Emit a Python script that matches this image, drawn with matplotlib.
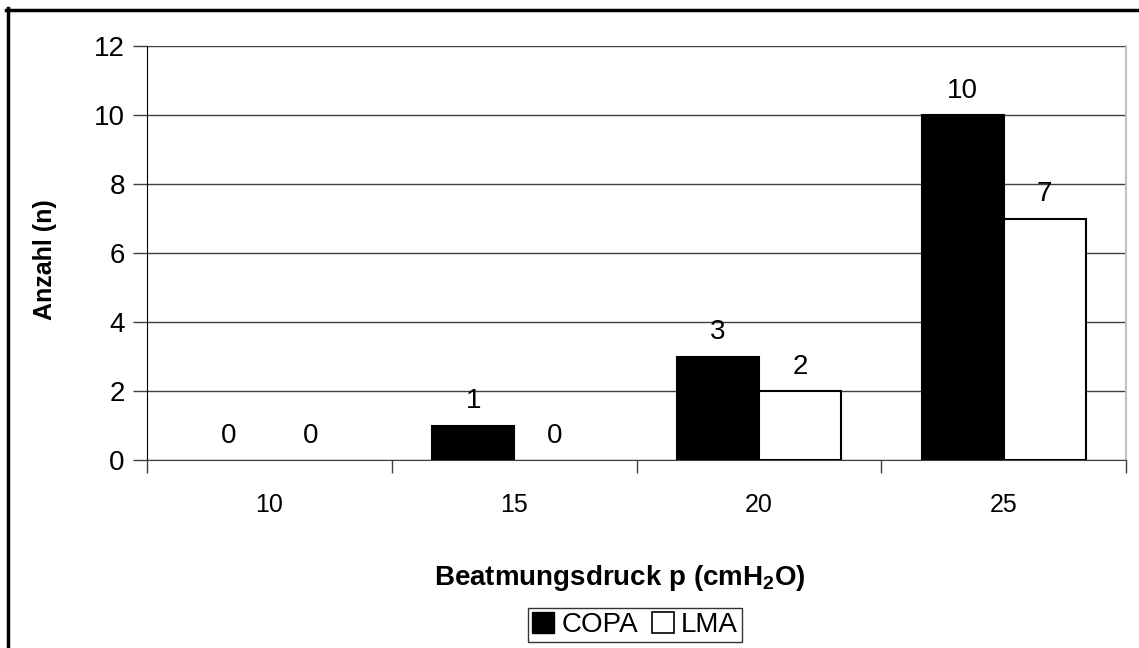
import numpy as np
import matplotlib.pyplot as plt
from matplotlib.lines import Line2D
from matplotlib.patches import Patch

plt.rcParams['font.family'] = ['Liberation Sans', 'DejaVu Sans']
plt.rcParams['mathtext.fontset'] = 'custom'
plt.rcParams['mathtext.rm'] = 'Liberation Sans:bold'
plt.rcParams['mathtext.bf'] = 'Liberation Sans:bold'

druck = ['10', '15', '20', '25']
copa = [0, 1, 3, 10]
lma = [0, 0, 2, 7]

W, H = 1139, 648
fig = plt.figure(figsize=(W / 100, H / 100), dpi=100)
ax = fig.add_axes([147 / W, (H - 460) / H, (1126 - 147) / W, 414 / H])

x = np.arange(len(druck))
bw = 0.335
b1 = ax.bar(x - bw / 2, copa, bw, color='black', edgecolor='black',
            linewidth=[1.5 if v > 0 else 0 for v in copa], zorder=3)
b2 = ax.bar(x + bw / 2, lma, bw, color='white', edgecolor='black',
            linewidth=[1.5 if v > 0 else 0 for v in lma], zorder=3)

for bars, vals in [(b1, copa), (b2, lma)]:
    for b, v in zip(bars, vals):
        ax.annotate(str(v), (b.get_x() + b.get_width() / 2, v),
                    xytext=(0, 8), textcoords='offset points',
                    ha='center', va='bottom', fontsize=20)

ax.set_xlim(-0.5, 3.5)
ax.set_ylim(0, 12)
ax.set_yticks(np.arange(0, 13, 2))
ax.yaxis.grid(True, color='#404040', linewidth=1)
ax.set_axisbelow(True)

ax.set_xticks(x)
ax.set_xticklabels(druck)
ax.set_xticks(np.arange(-0.5, 4, 1), minor=True)
ax.tick_params(axis='x', which='major', length=0, pad=24, labelsize=18)
ax.tick_params(axis='x', which='minor', length=9, width=1, color='#404040', direction='out')
ax.tick_params(axis='y', length=10, width=1, color='#404040', labelsize=20, pad=6)

ax.spines['top'].set_visible(False)
ax.spines['right'].set_color('#c0c0c0')
ax.spines['right'].set_linewidth(1.5)
ax.spines['left'].set_color('black')
ax.spines['bottom'].set_color('#404040')

fig.text(45 / W, 1 - 260 / H, 'Anzahl (n)', rotation=90, ha='center', va='center',
         fontsize=18, fontweight='bold')
fig.text(620 / W, 1 - 578 / H, r'Beatmungsdruck p (cmH$_2$O)', ha='center', va='center',
         fontsize=20, fontweight='bold')

handles = [Patch(facecolor='black', edgecolor='black'),
           Patch(facecolor='white', edgecolor='black', linewidth=1.2)]
leg = fig.legend(handles, ['COPA', 'LMA'], loc='center', bbox_to_anchor=(635 / W, (H - 625) / H),
                 ncol=2, frameon=True, fancybox=False, fontsize=20,
                 handlelength=0.8, handleheight=0.8, handletextpad=0.25, columnspacing=0.5,
                 borderpad=0.15, borderaxespad=0, edgecolor='black')
leg.get_frame().set_linewidth(1)

# outer frame (top and left edges visible)
fig.add_artist(Line2D([6 / W, 1], [1 - 9.5 / H, 1 - 9.5 / H], color='black', linewidth=2.5, transform=fig.transFigure))
fig.add_artist(Line2D([7.5 / W, 7.5 / W], [0, 1 - 8 / H], color='black', linewidth=2.5, transform=fig.transFigure))

fig.savefig('out.png', dpi=100)
